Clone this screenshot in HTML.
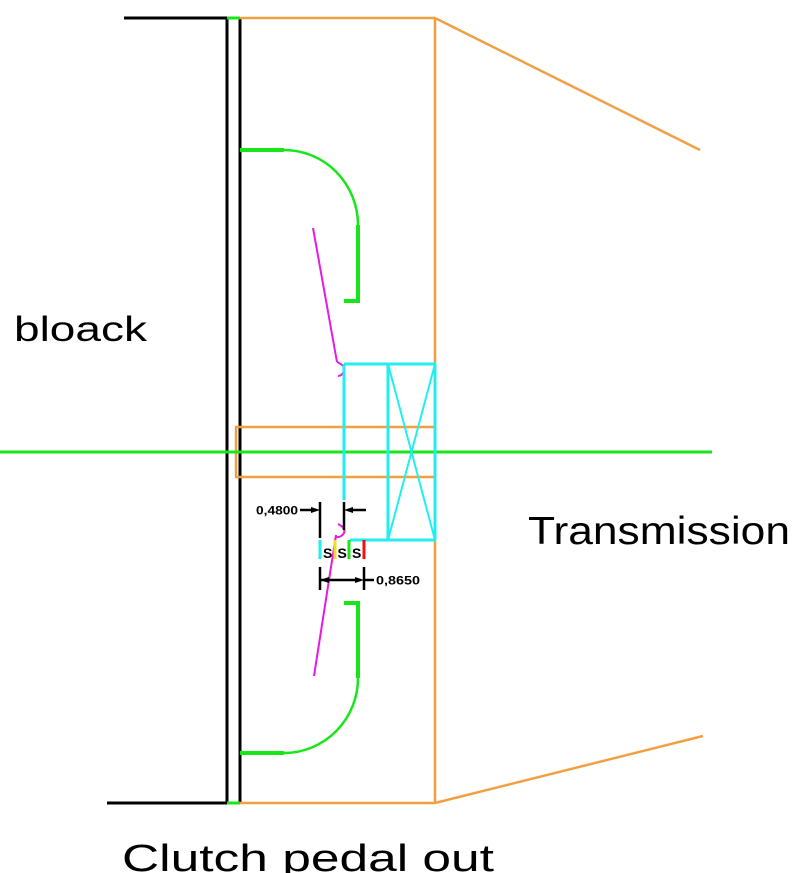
<!DOCTYPE html>
<html>
<head>
<meta charset="utf-8">
<style>
html,body{margin:0;padding:0;background:#fff;}
svg{display:block;}
text{font-family:"Liberation Sans",sans-serif;}
</style>
</head>
<body>
<svg width="798" height="873" viewBox="0 0 798 873" xmlns="http://www.w3.org/2000/svg">
  <rect x="0" y="0" width="798" height="873" fill="#fff"/>

  <!-- black top/bottom lines -->
  <line x1="124" y1="18" x2="227" y2="18" stroke="#000" stroke-width="3"/>
  <line x1="107" y1="803" x2="227" y2="803" stroke="#000" stroke-width="3"/>
  <!-- black verticals -->
  <line x1="227" y1="18" x2="227" y2="803" stroke="#000" stroke-width="3"/>
  <line x1="240" y1="18" x2="240" y2="803" stroke="#000" stroke-width="3"/>
  <!-- green short segments -->
  <line x1="227" y1="18" x2="240" y2="18" stroke="#19e619" stroke-width="3"/>
  <line x1="227" y1="803" x2="240" y2="803" stroke="#19e619" stroke-width="3"/>

  <!-- orange housing -->
  <g stroke="#f0a040" stroke-width="2.5" fill="none">
    <line x1="240" y1="18" x2="435" y2="18"/>
    <line x1="240" y1="803" x2="435" y2="803"/>
    <line x1="435" y1="18" x2="435" y2="803"/>
    <line x1="435" y1="18" x2="700" y2="150"/>
    <line x1="435" y1="803" x2="703" y2="736"/>
    <polyline points="435,427 236,427 236,477 435,477"/>
  </g>

  <!-- green center line -->
  <line x1="0" y1="452" x2="712" y2="452" stroke="#19e619" stroke-width="3"/>

  <!-- upper green clutch -->
  <g stroke="#19e619" fill="none">
    <line x1="240" y1="150" x2="284" y2="150" stroke-width="4"/>
    <path d="M284,150 A74,75 0 0 1 358,225" stroke-width="2.5"/>
    <line x1="358" y1="225" x2="358" y2="301" stroke-width="4"/>
    <line x1="344" y1="301" x2="360" y2="301" stroke-width="4"/>
  </g>
  <!-- lower green clutch -->
  <g stroke="#19e619" fill="none">
    <line x1="344" y1="603" x2="360" y2="603" stroke-width="4"/>
    <line x1="358" y1="603" x2="358" y2="678" stroke-width="4"/>
    <path d="M358,678 A74,75 0 0 1 284,753" stroke-width="2.5"/>
    <line x1="240" y1="753" x2="284" y2="753" stroke-width="4"/>
  </g>

  <!-- magenta diaphragm -->
  <g stroke="#e619e6" stroke-width="2" fill="none">
    <line x1="313" y1="228" x2="337" y2="362"/>
    <path d="M337,362 Q346,366 344,371 Q342,376 338,376"/>
    <line x1="336" y1="535" x2="314" y2="676"/>
    <path d="M338,524 Q346,528 344,533 Q341,538 335,537"/>
  </g>

  <!-- cyan bearing -->
  <g stroke="#22eeee" stroke-width="3" fill="none">
    <line x1="344" y1="364" x2="435" y2="364"/>
    <line x1="344" y1="364" x2="344" y2="500"/>
    <line x1="388" y1="364" x2="388" y2="540"/>
    <line x1="435" y1="364" x2="435" y2="540"/>
    <line x1="350" y1="540" x2="435" y2="540"/>
    <line x1="388" y1="364" x2="435" y2="540" stroke-width="2"/>
    <line x1="435" y1="364" x2="388" y2="540" stroke-width="2"/>
  </g>

  <!-- dimension 0,4800 -->
  <g stroke="#000" stroke-width="2.5">
    <line x1="320" y1="502" x2="320" y2="538"/>
    <line x1="344" y1="502" x2="344" y2="530"/>
    <line x1="300" y1="510" x2="313" y2="510"/>
    <line x1="351" y1="510" x2="366" y2="510"/>
  </g>
  <polygon points="320,510 311,507 311,513" fill="#000"/>
  <polygon points="344,510 353,507 353,513" fill="#000"/>
  <text x="256" y="514.5" font-size="12" font-weight="bold" fill="#000" textLength="42" lengthAdjust="spacingAndGlyphs">0,4800</text>

  <!-- springs -->
  <line x1="320" y1="540" x2="320" y2="559" stroke="#22eeee" stroke-width="3"/>
  <line x1="335" y1="540" x2="335" y2="559" stroke="#f0e020" stroke-width="3"/>
  <line x1="349" y1="540" x2="349" y2="559" stroke="#19e619" stroke-width="3"/>
  <line x1="364" y1="540" x2="364" y2="559" stroke="#ee1111" stroke-width="3"/>
  <text x="323" y="558" font-size="14" font-weight="bold" fill="#000">S</text>
  <text x="337.5" y="558" font-size="14" font-weight="bold" fill="#000">S</text>
  <text x="352" y="558" font-size="14" font-weight="bold" fill="#000">S</text>

  <!-- dimension 0,8650 -->
  <g stroke="#000" stroke-width="2.5">
    <line x1="320" y1="567" x2="320" y2="590"/>
    <line x1="364" y1="567" x2="364" y2="590"/>
    <line x1="320" y1="580" x2="357" y2="580"/>
    <line x1="364" y1="580" x2="374" y2="580"/>
  </g>
  <polygon points="364,580 355,577 355,583" fill="#000"/>
  <polygon points="320,580 329,577 329,583" fill="#000"/>
  <text x="376" y="584.5" font-size="12" font-weight="bold" fill="#000" textLength="44" lengthAdjust="spacingAndGlyphs">0,8650</text>

  <!-- labels -->
  <text x="14" y="341" font-size="35" fill="#000" textLength="133" lengthAdjust="spacingAndGlyphs">bloack</text>
  <text x="528" y="544" font-size="39" fill="#000" textLength="262" lengthAdjust="spacingAndGlyphs">Transmission</text>
  <text x="122" y="871" font-size="38" fill="#000" textLength="372" lengthAdjust="spacingAndGlyphs">Clutch pedal out</text>
</svg>
</body>
</html>
